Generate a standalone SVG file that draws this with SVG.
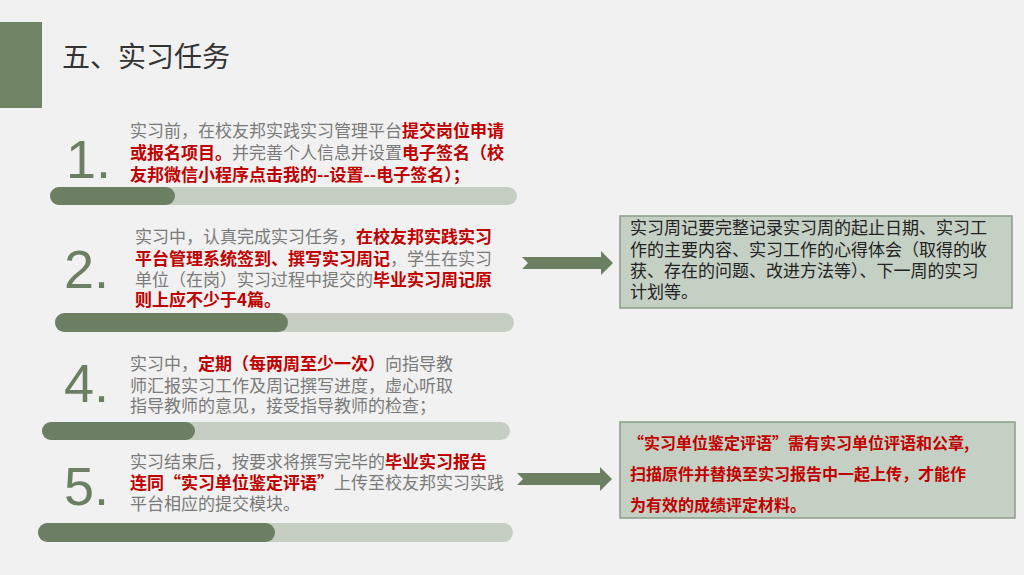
<svg xmlns="http://www.w3.org/2000/svg" width="1024" height="575" viewBox="0 0 1024 575">
<style>
.num{font-family:"Liberation Sans",Arial,sans-serif;font-size:54px;fill:#6b7f62}
.t{font-family:"Noto Sans CJK SC","Liberation Sans",sans-serif;font-size:17px;fill:#7a7a7a}
.r{fill:#c00000;font-weight:bold}
.bg{fill:#c6cec3}
.fg{fill:#6b7f62}
.box{fill:#c5d0c4;stroke:#8c9c89;stroke-width:1.5}
.arr{fill:#6b7f62}
</style>
<rect width="1024" height="575" fill="#f0f1f0"/>
<rect x="0" y="22" width="42" height="86" fill="#6f8465"/>
<text x="62" y="67" font-family="Noto Sans CJK SC,sans-serif" font-size="28" fill="#333">五、实习任务</text>
<g id="item1">
<text class="num" x="66" y="178">1.</text>
<text class="t" x="130" y="137">实习前，在校友邦实践实习管理平台<tspan class="r">提交岗位申请</tspan></text>
<text class="t" x="130" y="159"><tspan class="r">或报名项目。</tspan>并完善个人信息并设置<tspan class="r">电子签名（校</tspan></text>
<text class="t r" x="130" y="181">友邦微信小程序点击我的--设置--电子签名）；</text>
<rect class="bg" x="50" y="187" width="467" height="18" rx="9"/><rect class="fg" x="50" y="187" width="125" height="18" rx="9"/>
</g>
<g id="item2">
<text class="num" x="64" y="288">2.</text>
<text class="t" x="135" y="243">实习中，认真完成实习任务，<tspan class="r">在校友邦实践实习</tspan></text>
<text class="t" x="135" y="265"><tspan class="r">平台管理系统签到、撰写实习周记</tspan>，学生在实习</text>
<text class="t" x="135" y="286">单位（在岗）实习过程中提交的<tspan class="r">毕业实习周记原</tspan></text>
<text class="t r" x="135" y="306">则上应不少于4篇。</text>
<rect class="bg" x="55" y="313" width="459" height="19" rx="9.5"/><rect class="fg" x="55" y="313" width="233" height="19" rx="9.5"/>
</g>
<g id="item4">
<text class="num" x="64" y="402">4.</text>
<text class="t" x="130" y="370">实习中，<tspan class="r">定期（每两周至少一次）</tspan>向指导教</text>
<text class="t" x="130" y="392">师汇报实习工作及周记撰写进度，虚心听取</text>
<text class="t" x="130" y="412">指导教师的意见，接受指导教师的检查；</text>
<rect class="bg" x="42" y="422" width="468" height="18" rx="9"/><rect class="fg" x="42" y="422" width="153" height="18" rx="9"/>
</g>
<g id="item5">
<text class="num" x="64" y="505">5.</text>
<text class="t" x="130" y="468">实习结束后，按要求将撰写完毕的<tspan class="r">毕业实习报告</tspan></text>
<text class="t" x="130" y="489"><tspan class="r">连同“实习单位鉴定评语”</tspan>上传至校友邦实习实践</text>
<text class="t" x="130" y="510">平台相应的提交模块。</text>
<rect class="bg" x="38" y="523" width="475" height="19" rx="9.5"/><rect class="fg" x="38" y="523" width="237" height="19" rx="9.5"/>
</g>
<g id="note1">
<rect class="box" x="620" y="216" width="392" height="92"/>
<g font-family="Noto Sans CJK SC,sans-serif" font-size="17" fill="#222">
<text x="630" y="234">实习周记要完整记录实习周的起止日期、实习工</text>
<text x="630" y="256">作的主要内容、实习工作的心得体会（取得的收</text>
<text x="630" y="277">获、存在的问题、改进方法等）、下一周的实习</text>
<text x="630" y="298">计划等。</text>
</g>
</g>
<g id="note2">
<rect class="box" x="620" y="422" width="395" height="96"/>
<g font-family="Noto Sans CJK SC,sans-serif" font-size="16" font-weight="bold" fill="#c00000">
<text x="628" y="449">“实习单位鉴定评语”需有实习单位评语和公章,</text>
<text x="630" y="480">扫描原件并替换至实习报告中一起上传，才能作</text>
<text x="630" y="511">为有效的成绩评定材料。</text>
</g>
</g>
<g id="connectors">
<polygon class="arr" points="522,257 601,257 601,251 613,263 601,275 601,269 522,269 528,263"/>
<polygon class="arr" points="517,473 600,473 600,467 612,479 600,491 600,485 517,485 523,479"/>
</g>
</svg>
